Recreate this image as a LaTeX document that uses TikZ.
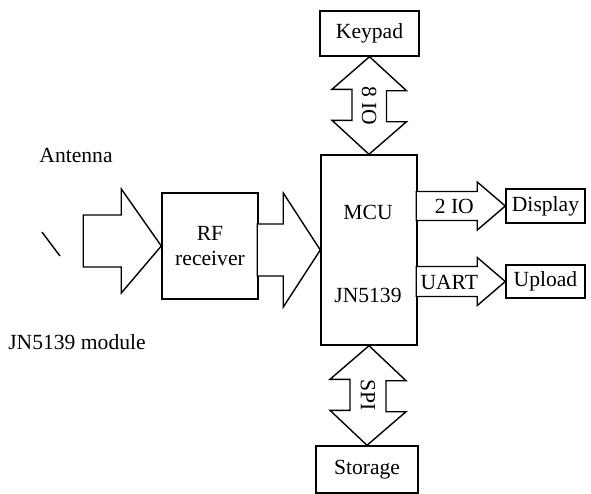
\documentclass[tikz,border=0pt]{standalone}
\usepackage{fontspec}
\setmainfont{Liberation Serif}
\usepackage{tikz}
\usetikzlibrary{positioning,calc}

\begin{document}
\begin{tikzpicture}[
  x=0.5pt, y=-0.5pt,
  box/.style={draw, line width=0.7pt, minimum width=48pt, minimum height=22pt, inner sep=1pt, align=center, font=\fontsize{10.8}{12.5}\selectfont},
  blk/.style={draw, line width=0.7pt, line join=miter, fill=white},
  lbl/.style={inner sep=0pt, font=\fontsize{10.8}{12.5}\selectfont}
]
  \useasboundingbox (0,0) rectangle (591,494);
  % blocks
  \node[box, minimum width=49.5pt, minimum height=22.5pt] (keypad) at (369.5,33.5) {Keypad};
  \node[box, minimum width=48pt, minimum height=95pt] (mcu) at (369,250) {};
  \node[box, minimum width=51pt, minimum height=23.5pt] (storage) at (367,469.5) {Storage};
  \node[box, minimum width=48pt, minimum height=53pt] (rf) at (210,246) {RF\\receiver};
  \node[box, minimum width=39.5pt, minimum height=17pt] (display) at (545.5,206) {Display};
  \node[box, minimum width=39.5pt, minimum height=16.5pt] (upload) at (545.5,281.5) {Upload};
  \node[lbl] (mcutxt) at (368,212) {MCU};
  \node[lbl] (jntxt) at (368,295) {JN5139};
  \node[lbl] (ant) at (76,155) {Antenna};
  \node[lbl] (module) at (77,342) {JN5139 module};
  \coordinate (a1) at (42,232);
  \coordinate (a2) at (60,256);
  \draw[line width=0.7pt] (a1) -- (a2);
  % block arrows
  \draw[blk] (rf.west) -- ++(-40,-57) -- ++(0,26) -- ++(-38,0) -- ++(0,52) -- ++(38,0) -- ++(0,26) -- cycle;
  \draw[blk] (mcu.west) -- ++(-37,-57) -- ++(0,31) -- ++(-26,0) -- ++(0,52) -- ++(26,0) -- ++(0,31) -- cycle;
  \draw[blk] (keypad.south) -- ++(37,34) -- ++(-20,0) -- ++(0,31) -- ++(20,0) -- (mcu.north)
    -- ++(-37,-34) -- ++(20,0) -- ++(0,-31) -- ++(-20,0) -- cycle;
  \draw[blk] (mcu.south) -- ++(37,35) -- ++(-20,0) -- ++(0,31) -- ++(20,0) -- (storage.north)
    -- ++(-37,-35) -- ++(20,0) -- ++(0,-31) -- ++(-20,0) -- cycle;
  \draw[blk] (display.west) -- ++(-28,-24) -- ++(0,9.5) -- ++(-61,0) -- ++(0,29) -- ++(61,0) -- ++(0,9.5) -- cycle;
  \draw[blk] (upload.west) -- ++(-28,-24) -- ++(0,9) -- ++(-61,0) -- ++(0,30) -- ++(61,0) -- ++(0,9) -- cycle;
  % arrow labels
  \node[lbl, rotate=-90] (io8) at ($(keypad.south)!0.5!(mcu.north)$) {8 IO};
  \node[lbl, rotate=-90] (spi) at ($(mcu.south)!0.5!(storage.north)$) {SPI};
  \path (display.west) ++(-51,0) node[lbl] (io2) {2 IO};
  \path (upload.west) ++(-56,1) node[lbl] (uart) {UART};
\end{tikzpicture}
\end{document}
